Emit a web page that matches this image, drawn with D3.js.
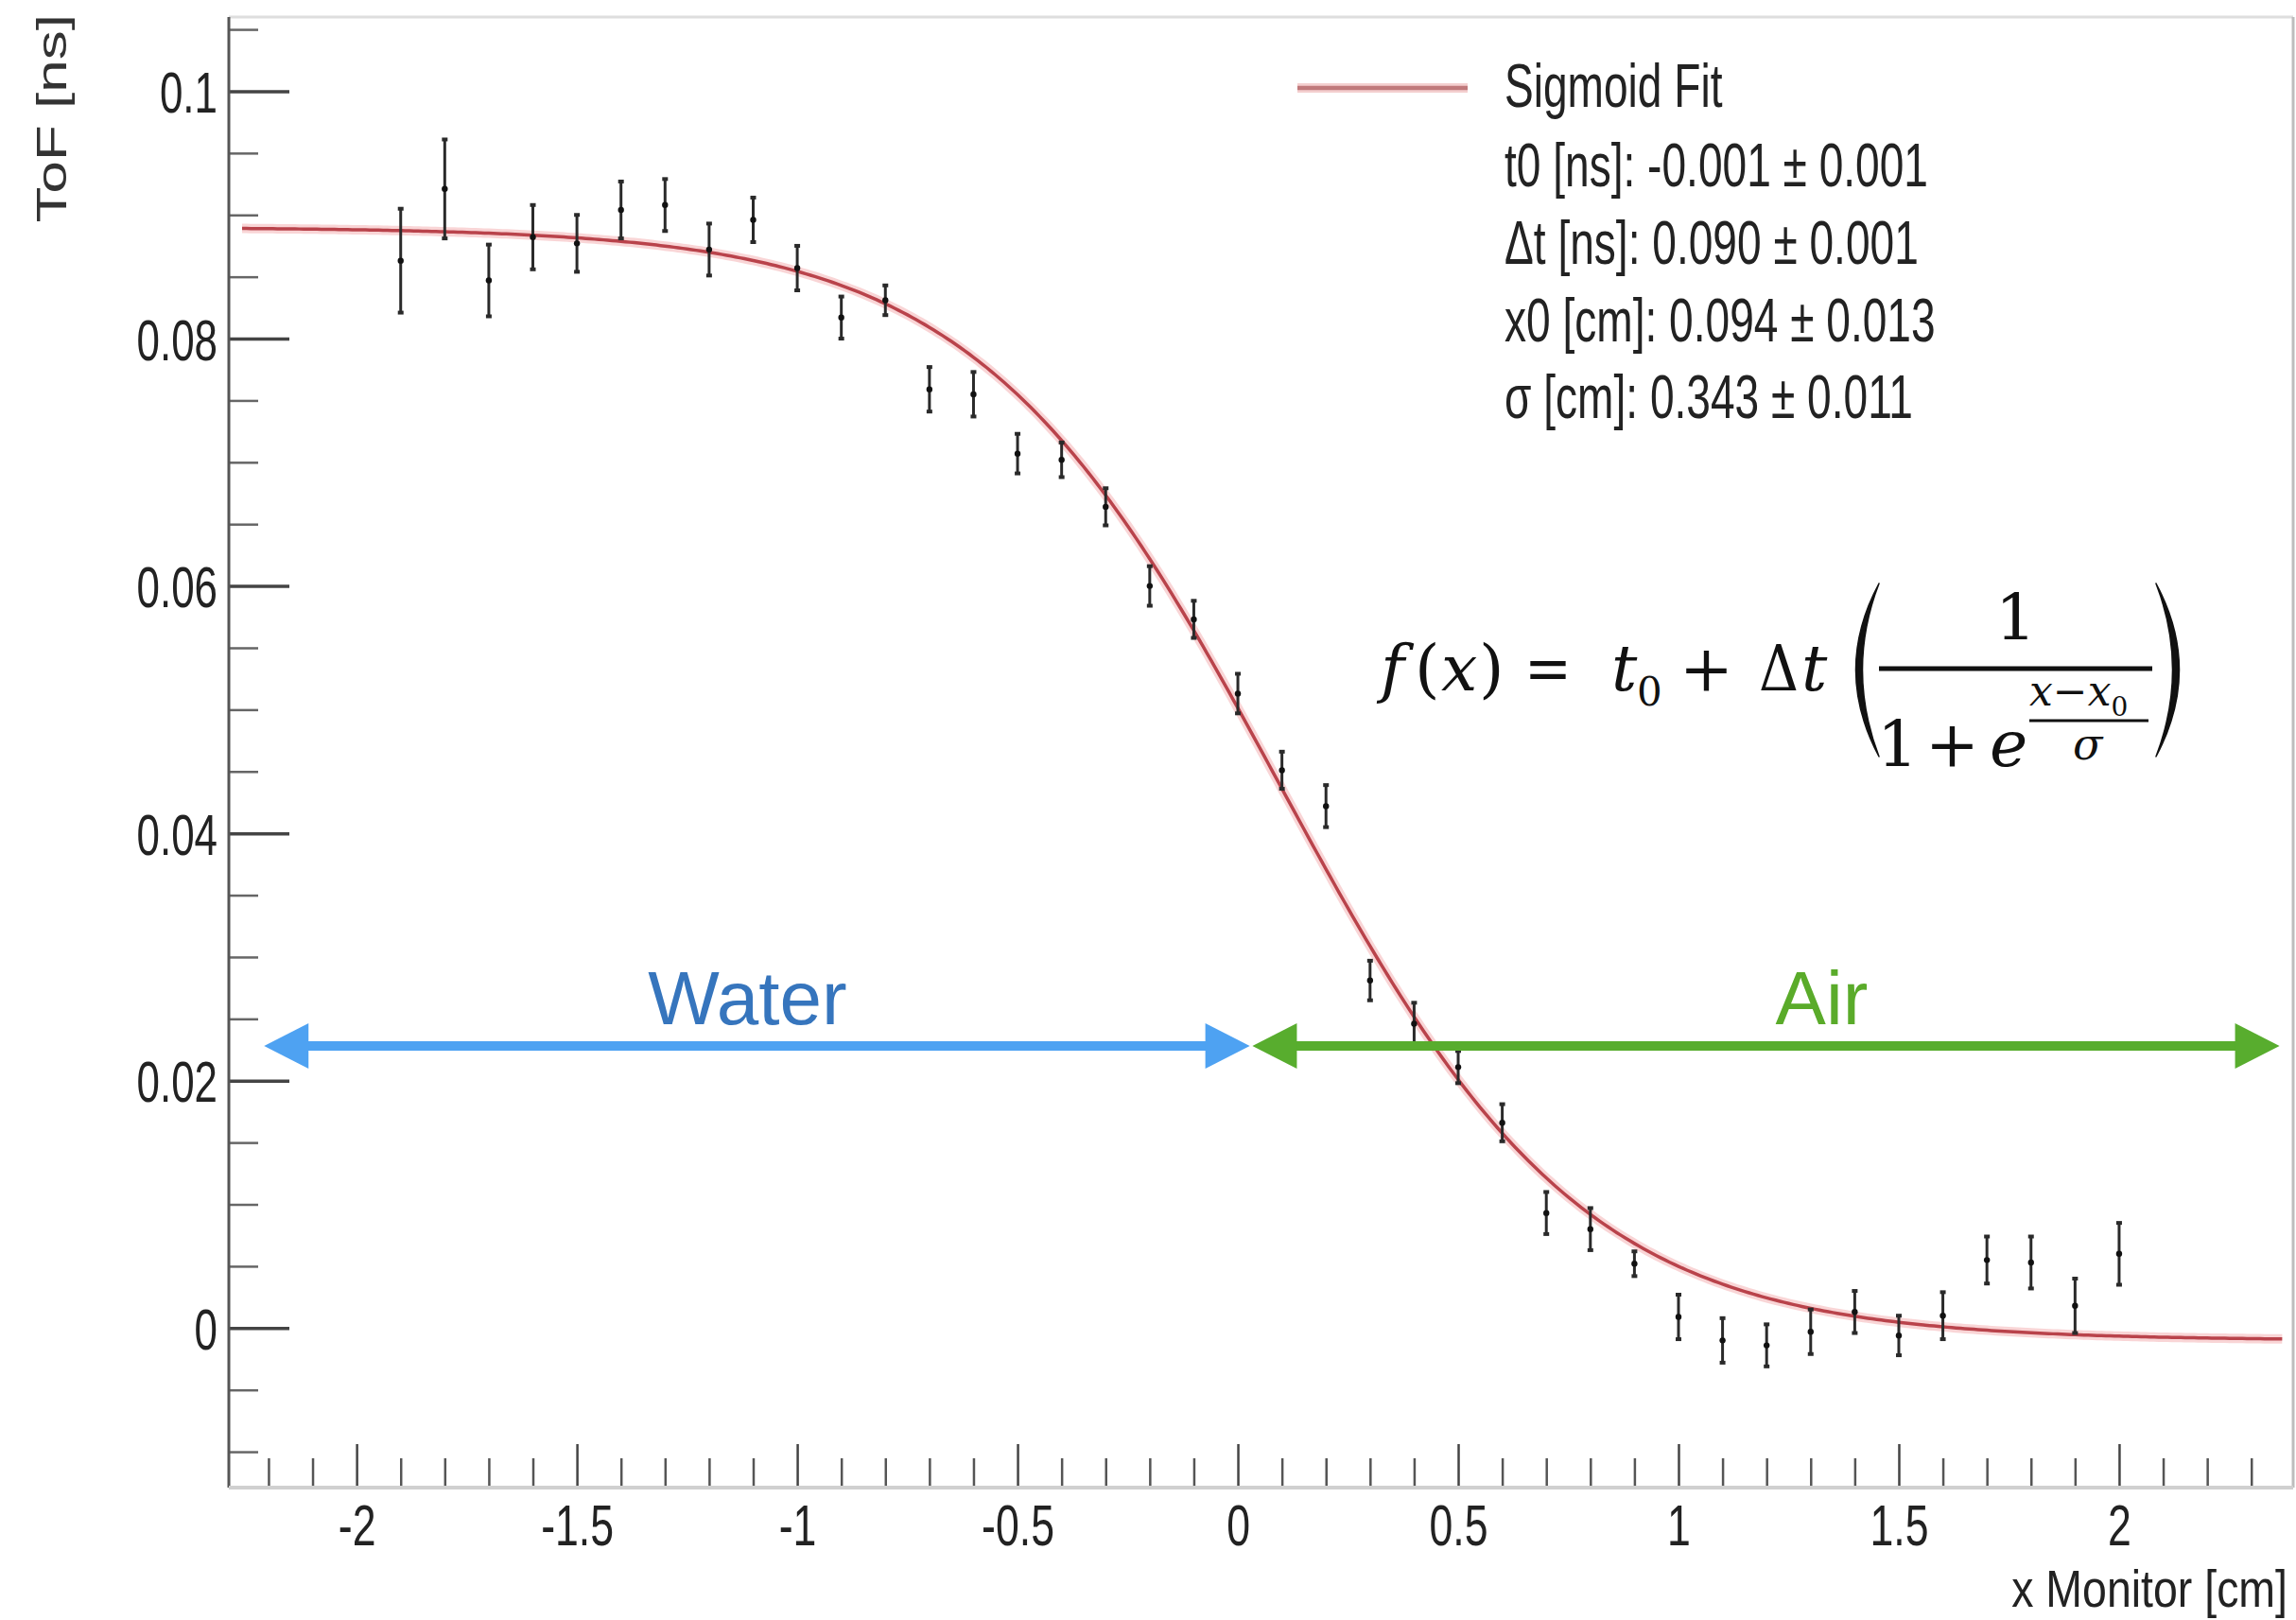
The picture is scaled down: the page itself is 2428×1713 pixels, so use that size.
<!DOCTYPE html>
<html>
<head>
<meta charset="utf-8">
<script src="https://cdn.jsdelivr.net/npm/d3@7"></script>
<style>
  html, body { margin: 0; padding: 0; background: #fff; }
  svg { display: block; }
</style>
</head>
<body>
<svg id="chart" width="2428" height="1713"></svg>
<script>
// ---------------- data ----------------
const xPositions = [-1.9,-1.8,-1.7,-1.6,-1.5,-1.4,-1.3,-1.2,-1.1,-1.0,-0.9,-0.8,-0.7,-0.6,-0.5,-0.4,-0.3,-0.2,-0.1,0.0,
                    0.1,0.2,0.3,0.4,0.5,0.6,0.7,0.8,0.9,1.0,1.1,1.2,1.3,1.4,1.5,1.6,1.7,1.8,1.9,2.0];
const tofValues = [0.0863,0.0921,0.0847,0.0882,0.0877,0.0904,0.0908,0.0872,0.0896,0.0857,0.0817,0.0831,0.0759,0.0755,0.0707,0.0702,0.0664,0.0600,0.0573,0.0513,
                   0.0451,0.0422,0.0281,0.0246,0.0211,0.0166,0.0093,0.0080,0.0052,0.0009,-0.0010,-0.0014,-0.0003,0.0013,-0.0006,0.0010,0.0055,0.0053,0.0018,0.0060];
const tofErrors = [0.0042,0.0040,0.0029,0.0026,0.0023,0.0023,0.0021,0.0021,0.0018,0.0018,0.0017,0.0012,0.0018,0.0018,0.0016,0.0014,0.0015,0.0016,0.0015,0.0016,
                   0.0015,0.0017,0.0016,0.0017,0.0013,0.0015,0.0017,0.0017,0.0010,0.0018,0.0018,0.0017,0.0018,0.0017,0.0016,0.0019,0.0019,0.0021,0.0022,0.0025];

// sigmoid fit parameters shown in the legend: t0, Δt, x0, σ
const fitParamNames  = ["t0 [ns]", "\u0394t [ns]", "x0 [cm]", "\u03c3 [cm]"];
const fitParamValues = [-0.001, 0.090, 0.094, 0.343];
const fitParamErrors = [0.001, 0.001, 0.013, 0.011];
const fitRange = [-2.26, 2.37];

const xMajorTicks = [-2,-1.5,-1,-0.5,0,0.5,1,1.5,2];
const xTickLabels = ["-2","-1.5","-1","-0.5","0","0.5","1","1.5","2"];
const yMajorTicks = [0,0.02,0.04,0.06,0.08,0.1];
const yTickLabels = ["0","0.02","0.04","0.06","0.08","0.1"];

const regionLabels = ["Water", "Air"];
const regionStart  = [-2.21, 0.033];
const regionEnd    = [0.027, 2.364];
const regionLabelX = [-1.113, 1.325];
const regionY      = 0.0228;

// ---------------- layout ----------------
const svg = d3.select("#chart");
const W = 2428, H = 1713;
svg.append("rect").attr("width", W).attr("height", H).attr("fill", "#fff");

const plot = {left: 242, right: 2425, top: 18, bottom: 1573};
const x = d3.scaleLinear().domain([-2.29, 2.395]).range([plot.left, plot.right]);
const y = d3.scaleLinear().domain([-0.0129, 0.106]).range([plot.bottom, plot.top]);

const SANS = "'Liberation Sans', Arial, Helvetica, sans-serif";
const SERIF = "'DejaVu Serif', 'Liberation Serif', 'Times New Roman', serif";
const COND = 0.72;
function condense(sel, f) {
  sel.each(function() {
    const len = this.getComputedTextLength();
    d3.select(this).attr("textLength", len * (f || COND)).attr("lengthAdjust", "spacingAndGlyphs");
  });
}

// frame
svg.append("line").attr("x1", plot.left).attr("x2", plot.right).attr("y1", plot.top).attr("y2", plot.top)
  .attr("stroke", "#dedede").attr("stroke-width", 3);
svg.append("line").attr("x1", plot.right).attr("x2", plot.right).attr("y1", plot.top).attr("y2", plot.bottom)
  .attr("stroke", "#bdbdbd").attr("stroke-width", 3);

// ---------------- y axis ----------------
const yMinor = d3.range(-0.01, 0.1051, 0.005).filter(v => !yMajorTicks.some(m => Math.abs(m - v) < 1e-6));
const yAxisMajor = d3.axisRight(y).tickValues(yMajorTicks).tickSize(64).tickFormat((d, i) => yTickLabels[i]).tickPadding(0);
const gy = svg.append("g").attr("transform", `translate(${plot.left},0)`).call(yAxisMajor);
gy.select(".domain").remove();
gy.selectAll(".tick line").attr("stroke", "#444").attr("stroke-width", 3.5);
gy.selectAll(".tick text")
  .attr("x", -12).attr("dy", "0.36em").attr("text-anchor", "end")
  .attr("font-family", SANS).attr("font-size", 61).attr("fill", "#222");
condense(gy.selectAll(".tick text"));
const gyMinor = svg.append("g").attr("transform", `translate(${plot.left},0)`)
  .call(d3.axisRight(y).tickValues(yMinor).tickSize(31).tickFormat(""));
gyMinor.select(".domain").remove();
gyMinor.selectAll(".tick line").attr("stroke", "#666").attr("stroke-width", 2.5);
svg.append("line").attr("x1", plot.left).attr("x2", plot.left).attr("y1", plot.top).attr("y2", plot.bottom)
  .attr("stroke", "#555").attr("stroke-width", 3);

// ---------------- x axis ----------------
const xMinor = d3.range(-2.2, 2.31, 0.1).filter(v => !xMajorTicks.some(m => Math.abs(m - v) < 1e-6));
const gx = svg.append("g").attr("transform", `translate(0,${plot.bottom})`)
  .call(d3.axisTop(x).tickValues(xMajorTicks).tickSize(46).tickFormat((d, i) => xTickLabels[i]));
gx.select(".domain").remove();
gx.selectAll(".tick line").attr("stroke", "#444").attr("stroke-width", 2.5);
gx.selectAll(".tick text")
  .attr("y", 61).attr("dy", 0).attr("text-anchor", "middle")
  .attr("font-family", SANS).attr("font-size", 62).attr("fill", "#222");
condense(gx.selectAll(".tick text"));
const gxMinor = svg.append("g").attr("transform", `translate(0,${plot.bottom})`)
  .call(d3.axisTop(x).tickValues(xMinor).tickSize(31).tickFormat(""));
gxMinor.select(".domain").remove();
gxMinor.selectAll(".tick line").attr("stroke", "#555").attr("stroke-width", 2.5);
svg.append("line").attr("x1", plot.left).attr("x2", plot.right).attr("y1", plot.bottom).attr("y2", plot.bottom)
  .attr("stroke", "#d0d0d0").attr("stroke-width", 4);

// axis titles
svg.append("text").text("ToF [ns]")
  .attr("transform", "translate(70,15) scale(0.72,1) rotate(-90)")
  .attr("text-anchor", "end").attr("font-family", SANS).attr("font-size", 62).attr("fill", "#333");
svg.append("text").text("x Monitor [cm]")
  .attr("transform", "translate(2419,1699) scale(0.83,1)")
  .attr("text-anchor", "end")
  .attr("font-family", SANS).attr("font-size", 56).attr("fill", "#222");

// ---------------- fit curve ----------------
const [t0, dt, x0, sg] = fitParamValues;
const sigmoid = v => t0 + dt / (1 + Math.exp((v - x0) / sg));
const curveX = d3.range(fitRange[0], fitRange[1] + 1e-9, 0.01);
const line = d3.line().x(d => x(d)).y(d => y(sigmoid(d)));
svg.append("path").datum(curveX).attr("d", line).attr("fill", "none")
  .attr("stroke", "#f6c3c5").attr("stroke-width", 10).attr("stroke-opacity", 0.7);
svg.append("path").datum(curveX).attr("d", line).attr("fill", "none")
  .attr("stroke", "#b9434b").attr("stroke-width", 3.5);

// ---------------- data points ----------------
const pts = xPositions.map((xv, i) => ({x: xv, y: tofValues[i], e: tofErrors[i]}));
const gp = svg.append("g");
gp.selectAll("line.err").data(pts).join("line").attr("class", "err")
  .attr("x1", d => x(d.x)).attr("x2", d => x(d.x))
  .attr("y1", d => y(d.y + d.e)).attr("y2", d => y(d.y - d.e))
  .attr("stroke", "#2a2a2a").attr("stroke-width", 3);
gp.selectAll("line.capt").data(pts).join("line").attr("class", "capt")
  .attr("x1", d => x(d.x) - 3).attr("x2", d => x(d.x) + 3)
  .attr("y1", d => y(d.y + d.e)).attr("y2", d => y(d.y + d.e))
  .attr("stroke", "#2a2a2a").attr("stroke-width", 4);
gp.selectAll("line.capb").data(pts).join("line").attr("class", "capb")
  .attr("x1", d => x(d.x) - 3).attr("x2", d => x(d.x) + 3)
  .attr("y1", d => y(d.y - d.e)).attr("y2", d => y(d.y - d.e))
  .attr("stroke", "#2a2a2a").attr("stroke-width", 4);
gp.selectAll("circle").data(pts).join("circle")
  .attr("cx", d => x(d.x)).attr("cy", d => y(d.y)).attr("r", 3.2).attr("fill", "#111");

// ---------------- legend ----------------
svg.append("line").attr("x1", 1372).attr("x2", 1552).attr("y1", 93).attr("y2", 93)
  .attr("stroke", "#f4cfcf").attr("stroke-width", 10);
svg.append("line").attr("x1", 1372).attr("x2", 1552).attr("y1", 93).attr("y2", 93)
  .attr("stroke", "#c0797b").attr("stroke-width", 4.5);
const fmt = d3.format(".3f");
const legendLines = ["Sigmoid Fit"].concat(fitParamNames.map((n, i) =>
  `${n}: ${fmt(fitParamValues[i]).replace("\u2212", "-")} \u00b1 ${fmt(fitParamErrors[i])}`));
const legendBaselines = [113, 197, 279, 361, 442];
const legText = svg.append("g").selectAll("text").data(legendLines).join("text")
  .attr("x", 1591).attr("y", (d, i) => legendBaselines[i]).text(d => d)
  .attr("font-family", SANS).attr("font-size", 64).attr("fill", "#222");
condense(legText);

// ---------------- region arrows ----------------
const regionColors = ["#4ea2f2", "#58ad2e"];
const regionTextColors = ["#3675bd", "#5aab2a"];
const head = 47, halfH = 24;
regionLabels.forEach((lab, i) => {
  const xa = x(regionStart[i]), xb = x(regionEnd[i]), yy = y(regionY);
  const g = svg.append("g");
  g.append("line").attr("x1", xa + head - 2).attr("x2", xb - head + 2).attr("y1", yy).attr("y2", yy)
    .attr("stroke", regionColors[i]).attr("stroke-width", 10);
  g.append("path").attr("d", `M${xa},${yy} L${xa + head},${yy - halfH} L${xa + head},${yy + halfH} Z`).attr("fill", regionColors[i]);
  g.append("path").attr("d", `M${xb},${yy} L${xb - head},${yy - halfH} L${xb - head},${yy + halfH} Z`).attr("fill", regionColors[i]);
  g.append("text").text(lab).attr("x", x(regionLabelX[i])).attr("y", yy - 23)
    .attr("text-anchor", "middle").attr("font-family", SANS).attr("font-size", 80)
    .attr("fill", regionTextColors[i]);
});

// ---------------- formula ----------------
const fg = svg.append("g").attr("font-family", SERIF).attr("fill", "#111");
function ft(txt, px, py, size, italic, w) {
  const t = fg.append("text").text(txt).attr("x", px).attr("y", py).attr("font-size", size)
    .attr("font-style", italic ? "italic" : "normal");
  if (w) t.attr("textLength", w).attr("lengthAdjust", "spacingAndGlyphs");
  return t;
}
ft("f", 1460, 730, 68, true);
ft("(", 1496, 730, 68, false);
ft("x", 1524, 730, 68, true);
ft(")", 1564, 730, 68, false);
ft("=", 1612, 730, 68, false, 50);
ft("t", 1704, 730, 68, true);
ft("0", 1731, 746, 42, false);
ft("+", 1776, 730, 68, false);
ft("\u0394", 1860, 730, 68, false, 42);
ft("t", 1905, 730, 68, true);
ft("1", 2110, 676, 68, false);
ft("1", 1985, 810, 68, false);
ft("+", 2036, 810, 68, false);
ft("e", 2104, 810, 68, true);
// exponent numerator as one text
const expo = fg.append("text").attr("x", 2146).attr("y", 746).attr("font-size", 44);
expo.append("tspan").attr("font-style", "italic").text("x");
expo.append("tspan").text("\u2212");
expo.append("tspan").attr("font-style", "italic").text("x");
expo.append("tspan").attr("font-size", 28).attr("dy", 11).text("0");
ft("\u03c3", 2192, 803, 46, true);
fg.append("line").attr("x1", 1987).attr("x2", 2276).attr("y1", 707).attr("y2", 707).attr("stroke", "#111").attr("stroke-width", 5);
fg.append("line").attr("x1", 2146).attr("x2", 2272).attr("y1", 762).attr("y2", 762).attr("stroke", "#111").attr("stroke-width", 3);
fg.append("path").attr("d", "M1987,617 Q1938,708 1987,800 Q1952,708 1987,617 Z")
  .attr("fill", "#111").attr("stroke", "#111").attr("stroke-width", 1.5).attr("stroke-linejoin", "round");
fg.append("path").attr("d", "M2280,617 Q2329,708 2280,800 Q2315,708 2280,617 Z")
  .attr("fill", "#111").attr("stroke", "#111").attr("stroke-width", 1.5).attr("stroke-linejoin", "round");
</script>
</body>
</html>
